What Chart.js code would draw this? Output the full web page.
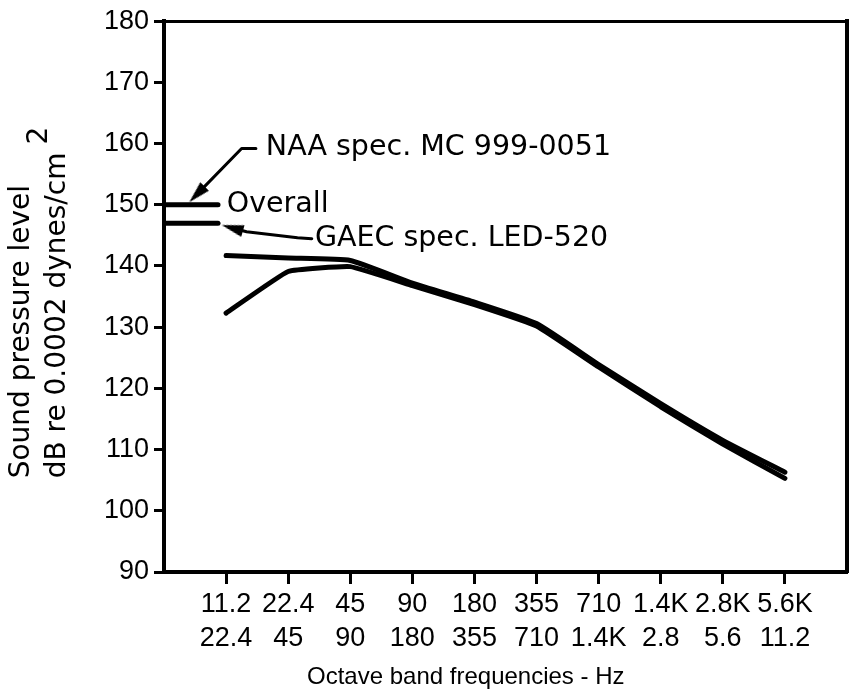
<!DOCTYPE html>
<html>
<head>
<meta charset="utf-8">
<script src="https://cdn.jsdelivr.net/npm/chart.js@4.4.1/dist/chart.umd.min.js"></script>
<style>
    html, body { margin: 0; padding: 0; background: #fff; }
</style>
</head>
<body>
<canvas id="spl-chart" width="856" height="694"></canvas>
<script>
// Octave band sound pressure levels vs. the overall spec levels.
// x runs on band index (1..10), y in dB re 0.0002 dynes/cm^2.

const BAND_INDEX = [1, 2, 3, 4, 5, 6, 7, 8, 9, 10];
const BAND_LOWER = ["11.2", "22.4", "45", "90", "180", "355", "710", "1.4K", "2.8K", "5.6K"];
const BAND_UPPER = ["22.4", "45", "90", "180", "355", "710", "1.4K", "2.8", "5.6", "11.2"];

// two measured curves, nearly identical above 45 Hz
const LEVEL_UPPER = [141.7, 141.3, 140.9, 137.2, 134.1, 130.6, 123.9, 117.5, 111.5, 106.3];
const LEVEL_LOWER = [132.3, 139.1, 139.9, 136.8, 133.7, 130.2, 123.5, 117.0, 110.9, 105.3];

// overall spec levels, drawn as short bars against the y axis
const SPEC_BAR_X = [0, 0.87];
const NAA_OVERALL = [150, 150];
const GAEC_OVERALL = [147, 147];

const Y_MIN = 90;
const Y_MAX = 180;
const Y_STEP = 10;

// leader arrows (band index, dB); last point is where the head sits
const NAA_ARROW_X = [1.48, 1.25, 0.53];
const NAA_ARROW_Y = [159.2, 159.2, 151.7];
const GAEC_ARROW_X = [2.38, 2.15, 1.33, 1.10];
const GAEC_ARROW_Y = [144.45, 144.6, 145.6, 146.2];

const NOTE_TEXT = ["NAA spec. MC 999-0051", "Overall", "GAEC spec. LED-520"];
const NOTE_X = [1.64, 1.01, 2.43];
const NOTE_Y = [159.4, 150.0, 144.45];

const X_TITLE = "Octave band frequencies - Hz";
const Y_TITLE = ["Sound pressure level", "dB re 0.0002 dynes/cm"];

const toXY = (xs, ys) => xs.map((x, i) => ({ x: x, y: ys[i] }));

function makeArrowHead(len, wid) {
    const c = document.createElement("canvas");
    c.width = len;
    c.height = wid;
    const g = c.getContext("2d");
    g.fillStyle = "#000";
    g.beginPath();
    g.moveTo(0, 0);
    g.lineTo(len, wid / 2);
    g.lineTo(0, wid);
    g.closePath();
    g.fill();
    return c;
}

const arrowHead = makeArrowHead(22, 12);

// hand-lettered bits: notes, axis titles (with the raised "2")
const letteringPlugin = {
    id: "lettering",
    afterDraw(chart) {
        const ctx = chart.ctx;
        const xs = chart.scales.x;
        const ys = chart.scales.y;
        ctx.save();
        ctx.fillStyle = "#000";

        ctx.font = "28.5px 'DejaVu Sans'";
        ctx.textAlign = "left";
        ctx.textBaseline = "middle";
        NOTE_TEXT.forEach((t, i) => {
            ctx.fillText(t, xs.getPixelForValue(NOTE_X[i]), ys.getPixelForValue(NOTE_Y[i]));
        });

        // x title sits a bit left of the plot centre in the original
        ctx.font = "24px 'Liberation Sans'";
        ctx.textAlign = "center";
        ctx.fillText(X_TITLE, xs.getPixelForValue(4.86), chart.height - 17);

        // y title, two rotated lines starting from the same bottom point
        ctx.font = "28px 'DejaVu Sans'";
        ctx.textAlign = "left";
        const yStart = ys.getPixelForValue(105.3);
        [22, 58].forEach((cx, i) => {
            ctx.save();
            ctx.translate(cx, yStart);
            ctx.rotate(-Math.PI / 2);
            ctx.fillText(Y_TITLE[i], 0, 0);
            if (i === 1) {
                const w = ctx.measureText(Y_TITLE[i]).width;
                ctx.fillText("2", w + 8, -18);
            }
            ctx.restore();
        });
        ctx.restore();
    },
};

const lineStyle = {
    borderColor: "#000",
    backgroundColor: "#000",
    borderCapStyle: "round",
    borderJoinStyle: "round",
    fill: false,
};

const canvas = document.getElementById("spl-chart");
new Chart(canvas, {
    type: "line",
    data: {
        datasets: [
            { ...lineStyle, label: "Upper curve", data: toXY(BAND_INDEX, LEVEL_UPPER),
              borderWidth: 5, pointRadius: 0, tension: 0.15 },
            { ...lineStyle, label: "Lower curve", data: toXY(BAND_INDEX, LEVEL_LOWER),
              borderWidth: 5, pointRadius: 0, tension: 0.1 },
            { ...lineStyle, label: "NAA overall", data: toXY(SPEC_BAR_X, NAA_OVERALL),
              borderWidth: 5, pointRadius: 0 },
            { ...lineStyle, label: "GAEC overall", data: toXY(SPEC_BAR_X, GAEC_OVERALL),
              borderWidth: 5, pointRadius: 0 },
            { ...lineStyle, label: "NAA leader", data: toXY(NAA_ARROW_X, NAA_ARROW_Y),
              borderWidth: 3, tension: 0, pointStyle: arrowHead, pointRotation: 134.5,
              pointRadius: c => (c.dataIndex === NAA_ARROW_X.length - 1 ? 6 : 0) },
            { ...lineStyle, label: "GAEC leader", data: toXY(GAEC_ARROW_X, GAEC_ARROW_Y),
              borderWidth: 3, tension: 0, pointStyle: arrowHead, pointRotation: 196,
              pointRadius: c => (c.dataIndex === GAEC_ARROW_X.length - 1 ? 6 : 0) },
        ],
    },
    options: {
        responsive: false,
        animation: false,
        layout: { padding: { top: 18, right: 8, left: 0, bottom: 0 } },
        plugins: {
            legend: { display: false },
            tooltip: { enabled: false },
        },
        scales: {
            x: {
                type: "linear",
                position: "bottom",
                min: 0,
                max: 11,
                afterBuildTicks: s => { s.ticks = BAND_INDEX.map(v => ({ value: v })); },
                afterFit: s => { s.height = 122; },
                ticks: {
                    autoSkip: false,
                    maxRotation: 0,
                    padding: 4,
                    color: "#000",
                    font: { family: "'Liberation Sans'", size: 27, lineHeight: 1.26 },
                    callback: v => {
                        const i = BAND_INDEX.indexOf(v);
                        return i < 0 ? "" : [BAND_LOWER[i], BAND_UPPER[i]];
                    },
                },
                grid: { drawOnChartArea: false, tickLength: 12, tickWidth: 3, tickColor: "#000" },
                border: { display: true, width: 4, color: "#000" },
            },
            y: {
                type: "linear",
                position: "left",
                min: Y_MIN,
                max: Y_MAX,
                afterFit: s => { s.width = 164; },
                ticks: {
                    stepSize: Y_STEP,
                    padding: 5,
                    color: "#000",
                    font: { family: "'Liberation Sans'", size: 27 },
                },
                grid: { drawOnChartArea: false, tickLength: 10, tickWidth: 3, tickColor: "#000" },
                border: { display: true, width: 4, color: "#000" },
            },
            // top and right frame lines
            xTop: {
                type: "linear",
                position: "top",
                min: 0,
                max: 1,
                afterFit: s => { s.height = 0; },
                ticks: { display: false },
                grid: { drawOnChartArea: false, drawTicks: false },
                border: { display: true, width: 3, color: "#000" },
            },
            yRight: {
                type: "linear",
                position: "right",
                min: 0,
                max: 1,
                afterFit: s => { s.width = 0; },
                ticks: { display: false },
                grid: { drawOnChartArea: false, drawTicks: false },
                border: { display: true, width: 4, color: "#000" },
            },
        },
    },
    plugins: [letteringPlugin],
});
</script>
</body>
</html>
